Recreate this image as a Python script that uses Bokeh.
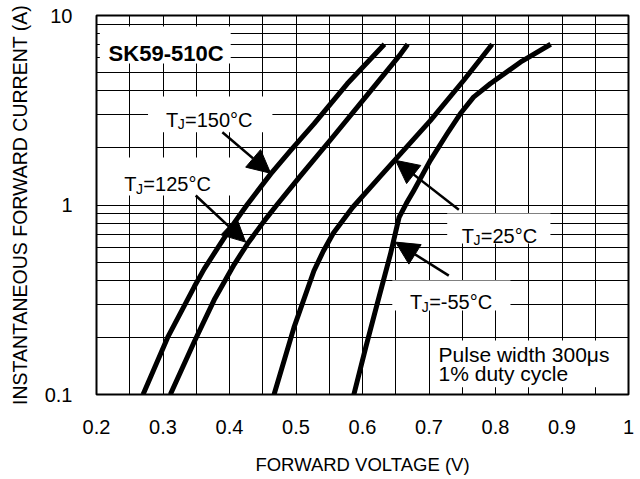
from bokeh.plotting import figure
from bokeh.models import (Range1d, FixedTicker, CustomJSTickFormatter, Label,
                          BoxAnnotation, Arrow, NormalHead)
from bokeh.embed import file_html
from bokeh.resources import INLINE

# ---------------- data ----------------
v150 = [0.270, 0.307, 0.347, 0.362, 0.377, 0.402, 0.427, 0.462, 0.492, 0.527, 0.577, 0.633]
i150 = [0.10, 0.20, 0.37, 0.46, 0.555, 0.76, 1.01, 1.46, 1.94, 2.68, 4.36, 7.05]

v125 = [0.311, 0.347, 0.377, 0.407, 0.427, 0.452, 0.472, 0.507, 0.552, 0.607, 0.657, 0.668]
i125 = [0.10, 0.19, 0.316, 0.485, 0.624, 0.822, 1.01, 1.43, 2.21, 3.80, 6.24, 7.05]

v25 = [0.467, 0.497, 0.527, 0.541, 0.556, 0.585, 0.627, 0.702, 0.752, 0.795]
i25 = [0.10, 0.226, 0.45, 0.57, 0.71, 0.97, 1.42, 2.79, 4.54, 7.05]

v55 = [0.587, 0.605, 0.622, 0.642, 0.655, 0.666, 0.677, 0.702, 0.727, 0.747, 0.767, 0.792, 0.840, 0.883]
i55 = [0.10, 0.178, 0.30, 0.55, 0.86, 1.02, 1.19, 1.72, 2.37, 3.03, 3.71, 4.36, 5.75, 7.05]

x_ticks = [0.2, 0.3, 0.4, 0.5, 0.6, 0.7, 0.8, 0.9, 1.0]
x_grid = [0.2, 0.25, 0.3, 0.35, 0.4, 0.45, 0.5, 0.55, 0.6, 0.65, 0.7, 0.75,
          0.8, 0.85, 0.9, 0.95, 1.0]
y_ticks = [0.1, 1, 10]
y_grid = [0.1, 0.2, 0.3, 0.4, 0.5, 0.6, 0.7, 0.8, 0.9,
          1, 2, 3, 4, 5, 6, 7, 8, 9, 10]

title_text = "SK59-510C"
x_title = "FORWARD VOLTAGE (V)"
y_title = "INSTANTANEOUS FORWARD CURRENT (A)"
note_lines = ["Pulse width 300\u03bcs", "1% duty cycle"]

FONT = "Liberation Sans"

p = figure(width=640, height=479, output_backend="svg", toolbar_location=None,
           x_range=Range1d(0.2, 1.0), y_range=Range1d(0.1, 10),
           y_axis_type="log",
           min_border_left=96, min_border_right=12, min_border_top=15,
           min_border_bottom=85)
p.background_fill_color = "white"
p.border_fill_color = "white"
p.outline_line_color = "black"
p.outline_line_width = 2

fmt = "return String(tick);"
for ax, ticks in ((p.xaxis[0], x_ticks), (p.yaxis[0], y_ticks)):
    ax.ticker = FixedTicker(ticks=ticks)
    ax.formatter = CustomJSTickFormatter(code=fmt)
    ax.axis_line_color = None
    ax.major_tick_line_color = None
    ax.minor_tick_line_color = None
    ax.major_tick_out = 0
    ax.major_tick_in = 0
    ax.major_label_text_font = FONT
    ax.major_label_text_font_size = "20px"
    ax.major_label_text_color = "black"
    ax.axis_label_text_font = FONT
    ax.axis_label_text_font_style = "normal"
    ax.axis_label_text_color = "black"

p.xaxis.major_label_standoff = 25
p.yaxis.major_label_standoff = 24
p.xaxis.axis_label = x_title
p.xaxis.axis_label_text_font_size = "18.5px"
p.xaxis.axis_label_standoff = 17
p.yaxis.axis_label = y_title
p.yaxis.axis_label_text_font_size = "19.5px"
p.yaxis.axis_label_standoff = 11

p.xgrid.ticker = FixedTicker(ticks=x_grid)
p.ygrid.ticker = FixedTicker(ticks=y_grid)
for g in (p.xgrid[0], p.ygrid[0]):
    g.grid_line_color = "black"
    g.grid_line_width = 1

for vs, cs in ((v150, i150), (v125, i125), (v25, i25), (v55, i55)):
    p.line(vs, cs, line_color="black", line_width=5, line_join="round")

# white boxes behind labels
boxes = [
    (0.2050, 0.4018, 5.58, 8.75),
    (0.2775, 0.4645, 2.422, 3.738),
    (0.2149, 0.4024, 1.122, 1.781),
    (0.7274, 0.8826, 0.626, 0.9019),
    (0.6448, 0.8225, 0.2776, 0.3995),
    (0.7023, 0.9878, 0.1093, 0.1927),
]
for l, r, b, t in boxes:
    p.add_layout(BoxAnnotation(left=l, right=r, bottom=b, top=t,
                               fill_color="white", fill_alpha=1.0,
                               line_color=None, level="annotation"))

def lab(x, y, text, size="20px", style="normal"):
    p.add_layout(Label(x=x, y=y, text=text, text_font=FONT,
                       text_font_size=size, text_font_style=style,
                       text_color="black", text_align="left",
                       text_baseline="alphabetic"))

lab(0.2182, 6.28, title_text, size="22px", style="bold")

tj = [
    # T position, J position, rest position, rest text
    ((0.30443, 2.826), (0.32216, 2.683), (0.33313, 2.826), "=150\u00b0C"),
    ((0.24177, 1.283), (0.25950, 1.218), (0.27047, 1.283), "=125\u00b0C"),
    ((0.74922, 0.690), (0.76695, 0.6552), (0.77791, 0.690), "=25\u00b0C"),
    ((0.67153, 0.3070), (0.68926, 0.2913), (0.70023, 0.3070), "=-55\u00b0C"),
]
for (tx, ty), (jx, jy), (rx, ry), rest in tj:
    lab(tx, ty, "T")
    lab(jx, jy, "J", size="14px")
    lab(rx, ry, rest)

lab(0.71436, 0.1626, note_lines[0], size="21px")
lab(0.71436, 0.1286, note_lines[1], size="21px")

arrows = [
    (0.3893, 2.42, 0.4619, 1.47),
    (0.3492, 1.122, 0.4243, 0.637),
    (0.7449, 0.943, 0.6497, 1.72),
    (0.7298, 0.424, 0.6497, 0.637),
]
for xs, ys, xe, ye in arrows:
    p.add_layout(Arrow(end=NormalHead(size=23, fill_color="black",
                                      line_color="black", line_width=1),
                       x_start=xs, y_start=ys, x_end=xe, y_end=ye,
                       line_color="black", line_width=2.5))

open("out.html", "w").write(file_html(p, INLINE))
